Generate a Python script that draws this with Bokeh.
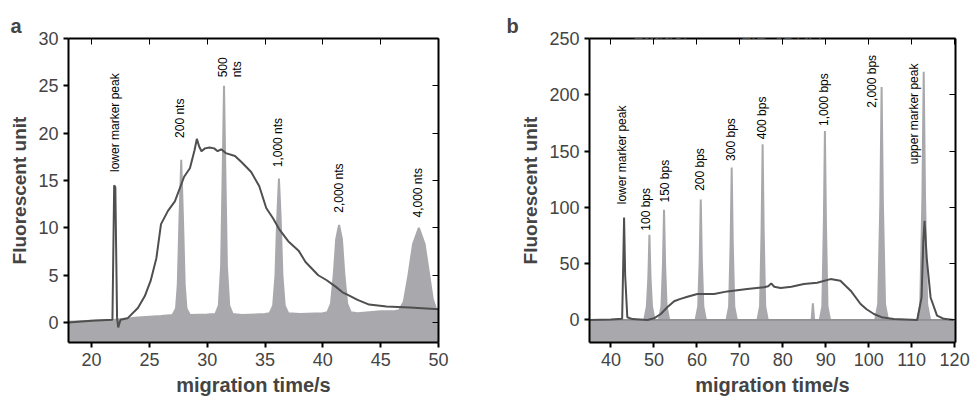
import math
from bokeh.plotting import figure
from bokeh.models import (LinearAxis, SingleIntervalTicker, Legend, LegendItem,
                          Span, Range1d)
from bokeh.layouts import row
from bokeh.embed import file_html
from bokeh.resources import INLINE
from bokeh.core.properties import value

FONT = "Liberation Sans"

# ---------------- Panel a data ----------------
ladder_a_t = [18.0, 20.0, 22.0, 24.0, 26.0, 27.0, 27.3, 27.45, 27.6, 27.75, 27.9, 28.05, 28.2, 28.5,
              30.0, 30.7, 31.0, 31.2, 31.35, 31.45, 31.55, 31.7, 31.9, 32.2, 33.0,
              35.0, 35.4, 35.7, 35.9, 36.05, 36.2, 36.35, 36.5, 36.7, 37.0, 38.0,
              40.0, 40.4, 40.7, 40.95, 41.15, 41.4, 41.65, 41.85, 42.1, 42.4, 43.0,
              45.0, 46.2, 46.6, 47.0, 47.4, 47.8, 48.3, 48.8, 49.2, 49.5, 49.8, 50.5]
ladder_a_v = [0.1, 0.2, 0.3, 0.55, 0.7, 0.8, 1.5, 4.0, 11.0, 17.2, 11.0, 4.0, 1.5, 0.8,
              0.85, 0.9, 1.8, 6.0, 17.0, 25.0, 17.0, 6.0, 1.8, 0.9, 0.8,
              0.9, 1.0, 1.8, 5.0, 11.0, 15.2, 11.0, 5.0, 1.8, 1.0, 0.9,
              1.0, 1.1, 2.0, 5.2, 8.8, 10.3, 8.8, 5.2, 2.0, 1.1, 1.0,
              1.2, 1.2, 1.3, 2.2, 5.0, 8.3, 10.0, 8.3, 5.0, 2.5, 1.4, 1.2]

sample_a_t = [18.0, 20.0, 21.8, 21.95, 22.05, 22.2, 22.3, 22.5, 23.1, 24.0, 24.6, 25.1, 25.6, 26.0,
              26.6, 27.2, 28.0, 28.5, 28.9, 29.1, 29.3, 29.5, 29.8, 30.2, 30.6, 30.9, 31.2, 31.6,
              32.4, 33.0, 33.8, 34.5, 35.1, 35.7, 36.2, 37.0, 37.9, 38.5, 39.6, 40.3, 41.1, 41.7,
              42.2, 43.0, 44.0, 45.5, 47.5, 50.3]
sample_a_v = [0.0, 0.2, 0.3, 14.5, 14.3, 0.5, -0.5, 0.3, 0.45, 1.55, 2.8, 4.4, 6.8, 10.4,
              11.8, 12.8, 15.4, 16.3, 18.2, 19.4, 18.6, 18.1, 18.4, 18.5, 18.4, 18.1, 18.3, 17.9,
              17.6, 16.9, 15.9, 14.4, 12.1, 11.0, 9.9, 8.6, 7.6, 6.4, 5.0, 4.5, 3.8, 3.2,
              2.9, 2.4, 1.9, 1.7, 1.6, 1.4]

# label anchors (text drawn upward, to the left of the anchor)
a_label_text = ["lower marker peak", "200 nts", "500", "nts", "1,000 nts", "2,000 nts", "4,000 nts"]
a_label_t = [22.62, 28.22, 31.72, 33.22, 36.72, 41.97, 48.82]
a_label_y = [15.9, 19.5, 25.9, 25.9, 16.4, 11.6, 11.1]

# ---------------- Panel b data ----------------
ladder_b_t = [35.0,
              47.75, 48.35, 48.7, 48.95, 49.2, 49.55, 50.15,
              51.15, 51.75, 52.1, 52.35, 52.6, 52.95, 53.55,
              59.7, 60.3, 60.65, 60.9, 61.15, 61.5, 62.1,
              66.9, 67.5, 67.85, 68.1, 68.35, 68.7, 69.3,
              74.1, 74.7, 75.05, 75.3, 75.55, 75.9, 76.5,
              86.7, 86.85, 87.0, 87.15, 87.3,
              88.6, 89.2, 89.55, 89.8, 90.05, 90.4, 91.0,
              101.5, 102.2, 102.7, 103.0, 103.3, 103.8, 104.5,
              111.3, 112.0, 112.5, 112.8, 113.1, 113.6, 114.3,
              120.5]
ladder_b_v = [0.0,
              0, 12, 38, 75.7, 38, 12, 0,
              0, 12, 49, 97.9, 49, 12, 0,
              0, 12, 53, 107, 53, 12, 0,
              0, 12, 68, 135.4, 68, 12, 0,
              0, 12, 78, 156, 78, 12, 0,
              0, 7, 14.8, 7, 0,
              0, 12, 84, 167.9, 84, 12, 0,
              0, 14, 103, 206.9, 103, 14, 0,
              0, 14, 110, 220.5, 110, 14, 0,
              0]

sample_b_t = [35.0, 40.0, 42.6, 42.85, 43.05, 43.3, 43.8, 45.0, 48.5, 50.0, 51.6, 53.1, 54.7, 56.0,
              57.8, 60.1, 64.0, 67.1, 71.7, 75.6, 76.6, 77.3, 78.0, 79.5, 82.0, 84.9, 88.0, 91.1,
              93.4, 95.8, 98.1, 99.5, 101.2, 103.0, 105.8, 111.3, 112.3, 112.7, 113.0, 113.5, 114.4,
              115.9, 117.5, 119.8]
sample_b_v = [0.0, 0.5, 1.0, 50.0, 91.0, 40.0, 2.4, 0.8, 0.0, 1.5, 5.3, 11.3, 16.6, 18.5,
              20.7, 23.0, 23.0, 25.4, 27.5, 29.0, 30.0, 32.5, 29.5, 28.4, 29.5, 31.9, 33.0, 36.3,
              34.9, 26.0, 14.2, 9.5, 5.3, 2.5, 0.9, 0.0, 20.0, 70.0, 88.0, 55.0, 20.0,
              3.9, 1.0, 0.0]

b_label_text = ["lower marker peak", "100 bps", "150 bps", "200 bps", "300 bps", "400 bps",
                "1,000 bps", "2,000 bps", "upper marker peak"]
b_label_t = [44.3, 49.7, 54.1, 62.3, 69.5, 76.7, 91.2, 102.4, 112.1]
b_label_y = [102.8, 79.3, 104.3, 114.7, 141.3, 160.5, 172.3, 188.6, 138.3]

assert len(ladder_a_t) == len(ladder_a_v)
assert len(sample_a_t) == len(sample_a_v)
assert len(ladder_b_t) == len(ladder_b_v)
assert len(sample_b_t) == len(sample_b_v)

FILL = "#a9a9ad"
SAMPLE = "#4f4f4f"


def make_panel(letter, letter_offset, xr, yr, xint, yint, ladder_t, ladder_v, sample_t, sample_v,
               sample_name, lab_text, lab_t, lab_y, borders, leg_xy, zero_line=False):
    bl, br, bt, bb = borders
    p = figure(width=486, height=398, x_range=Range1d(*xr), y_range=Range1d(*yr),
               output_backend="svg", toolbar_location=None, title=letter,
               min_border_left=bl, min_border_right=br, min_border_top=bt, min_border_bottom=bb)
    p.title.align = "left"
    p.title.offset = letter_offset
    p.title.text_font_size = "20px"
    p.title.standoff = 3
    p.outline_line_color = None
    p.xgrid.visible = False
    p.ygrid.visible = False
    p.background_fill_color = "white"

    p.varea(x=ladder_t, y1=yr[0], y2=ladder_v, fill_color=FILL)
    r_ladder = p.line(x=ladder_t, y=ladder_v, line_color=FILL, line_width=2)
    if zero_line:
        p.add_layout(Span(location=0, dimension="width", line_color="#555555",
                          line_width=1, line_dash="1 1"))
    r_sample = p.line(x=sample_t, y=sample_v, line_color=SAMPLE, line_width=2)

    p.text(x=lab_t, y=lab_y, text=lab_text, angle=math.pi / 2,
           text_font=value(FONT), text_font_size="12px")

    for ax, tick in ((p.xaxis[0], xint), (p.yaxis[0], yint)):
        ax.ticker = SingleIntervalTicker(interval=tick, num_minor_ticks=0)
        ax.minor_tick_line_color = None
        ax.axis_line_width = 2
        ax.major_tick_line_width = 2
        ax.major_tick_out = 5
        ax.major_tick_in = 0
        ax.major_label_text_font = FONT
        ax.major_label_text_font_size = "18px"
        ax.axis_label_text_font_style = "bold"
    p.xaxis[0].axis_label = "migration time/s"
    p.yaxis[0].axis_label = "Fluorescent unit"
    p.xaxis[0].axis_label_text_font_size = "20px"
    p.yaxis[0].axis_label_text_font_size = "19px"

    for side, tick in (("above", xint), ("right", yint)):
        p.add_layout(LinearAxis(ticker=SingleIntervalTicker(interval=tick, num_minor_ticks=0),
                                major_label_text_font_size="1px", major_label_text_color=None,
                                major_tick_in=6, major_tick_out=0, axis_line_width=2), side)

    leg = Legend(items=[LegendItem(label="Ladder", renderers=[r_ladder]),
                        LegendItem(label=sample_name, renderers=[r_sample])],
                 location=leg_xy, orientation="horizontal", spacing=27,
                 label_text_font_size="18px", border_line_color=None,
                 background_fill_alpha=0)
    p.add_layout(leg)
    return p


pa = make_panel("a", -58, (18, 50), (-2.1, 30), 5, 5,
                ladder_a_t, ladder_a_v, sample_a_t, sample_a_v,
                "mRNA-NP1", a_label_text, a_label_t, a_label_y,
                (68, 48, 30, 53), (25, 302))
pb = make_panel("b", -83, (35, 120.2), (-20, 250), 10, 50,
                ladder_b_t, ladder_b_v, sample_b_t, sample_b_v,
                "LIB-cDNA", b_label_text, b_label_t, b_label_y,
                (103, 17, 38, 53), (19, 298), zero_line=True)

layout = row(pa, pb)
open("out.html", "w").write(file_html(layout, INLINE))
